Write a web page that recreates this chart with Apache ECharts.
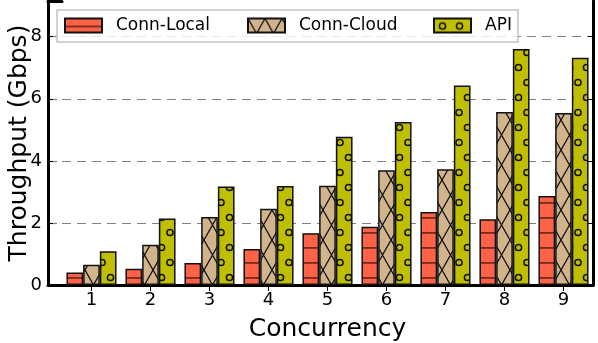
<!DOCTYPE html>
<html>
<head>
<meta charset="utf-8">
<script src="https://cdn.jsdelivr.net/npm/echarts@6/dist/echarts.min.js"></script>
<style>
  html, body { margin: 0; padding: 0; background: #fff; }
  #chart { width: 598px; height: 343px; }
</style>
</head>
<body>
<div id="chart"></div>
<script>
// data
var concurrency = ["1", "2", "3", "4", "5", "6", "7", "8", "9"];
var connLocal = [0.40, 0.52, 0.71, 1.16, 1.67, 1.88, 2.35, 2.12, 2.87];
var connCloud = [0.65, 1.30, 2.19, 2.46, 3.20, 3.70, 3.73, 5.57, 5.54];
var apiData = [1.09, 2.14, 3.17, 3.19, 4.78, 5.25, 6.43, 7.60, 7.32];
var yTicks = [0, 2, 4, 6, 8];

var FONT = "DejaVu Sans";
var YMAX = 9.15;

// hatch patterns, like matplotlib's '-', 'x' and 'o'
function makePattern(w, h, bg, draw) {
  var c = document.createElement("canvas");
  c.width = w;
  c.height = h;
  var ctx = c.getContext("2d");
  ctx.fillStyle = bg;
  ctx.fillRect(0, 0, w, h);
  draw(ctx);
  return { image: c, repeat: "repeat" };
}

var localFill = makePattern(17, 15, "#ff6347", function (ctx) {
  ctx.fillStyle = "#7a2a1c";
  ctx.fillRect(0, 7, 17, 1.8);
});

var cloudFill = makePattern(17, 30, "#d2b48c", function (ctx) {
  ctx.strokeStyle = "#111";
  ctx.lineWidth = 1.3;
  ctx.beginPath();
  ctx.moveTo(0, 0); ctx.lineTo(17, 30);
  ctx.moveTo(17, 0); ctx.lineTo(0, 30);
  ctx.stroke();
});

var apiFill = makePattern(17, 30, "#bfbf00", function (ctx) {
  ctx.strokeStyle = "#111";
  ctx.lineWidth = 1.5;
  [[8.5, 7.5], [0, 22.5], [17, 22.5]].forEach(function (p) {
    ctx.beginPath();
    ctx.arc(p[0], p[1], 3.1, 0, Math.PI * 2);
    ctx.stroke();
  });
});

function barSeries(name, vals, fill) {
  return {
    name: name,
    type: "bar",
    xAxisIndex: 0,
    yAxisIndex: 0,
    data: vals,
    barWidth: 16.7,
    barGap: "0%",
    itemStyle: { color: fill, borderColor: "#111", borderWidth: 1.5 }
  };
}

function legendAt(name, left) {
  return {
    left: left,
    top: 17,
    padding: 0,
    itemWidth: 37,
    itemHeight: 14,
    icon: "rect",
    textStyle: { fontSize: 17, color: "#000", fontFamily: FONT, padding: [0, 0, 0, 9] },
    data: [name]
  };
}

var frameLine = { show: true, lineStyle: { color: "#000", width: 3 } };
var gridDash = { show: true, lineStyle: { color: "#808080", width: 1.2, type: [9, 6] } };

var chart = echarts.init(document.getElementById("chart"));
chart.setOption({
  animation: false,
  textStyle: { fontFamily: FONT },
  grid: [
    { left: 62, right: 5, top: 1, bottom: 58, outerBoundsMode: "none" },
    // strip between the y axis and the first category, so the frame and grid lines reach the axis
    { left: 48, width: 14, top: 1, bottom: 58, outerBoundsMode: "none" }
  ],
  graphic: [{
    type: "rect",
    z: 3,
    shape: { x: 57, y: 10, width: 461, height: 32 },
    style: { fill: "rgba(255,255,255,0.8)", stroke: "#c4c4c4", lineWidth: 1.5 }
  }],
  legend: [
    legendAt("Conn-Local", 64),
    legendAt("Conn-Cloud", 247),
    legendAt("API", 433)
  ],
  xAxis: [
    {
      type: "category",
      gridIndex: 0,
      data: concurrency,
      name: "Concurrency",
      nameLocation: "middle",
      nameGap: 32,
      nameTextStyle: { fontSize: 25, color: "#000", fontFamily: FONT },
      axisLine: frameLine,
      axisTick: { inside: true, length: 5, alignWithLabel: true, lineStyle: { color: "#000" } },
      axisLabel: { fontSize: 18, color: "#000", margin: 6, fontFamily: FONT },
      splitLine: { show: false }
    },
    {
      type: "category",
      gridIndex: 0,
      position: "top",
      data: concurrency,
      axisLine: frameLine,
      axisTick: { show: true, inside: true, length: 6, alignWithLabel: true, lineStyle: { color: "#000" } },
      axisLabel: { show: false },
      splitLine: { show: false }
    },
    {
      type: "value",
      gridIndex: 1,
      min: 0,
      max: 1,
      axisLine: frameLine,
      axisTick: { show: false },
      axisLabel: { show: false },
      splitLine: { show: false }
    },
    {
      type: "value",
      gridIndex: 1,
      position: "top",
      min: 0,
      max: 1,
      axisLine: frameLine,
      axisTick: { show: false },
      axisLabel: { show: false },
      splitLine: { show: false }
    }
  ],
  yAxis: [
    {
      type: "value",
      gridIndex: 0,
      min: 0,
      max: YMAX,
      interval: 2,
      offset: 14,
      name: "Throughput (Gbps)",
      nameLocation: "middle",
      nameGap: 16,
      nameMoveOverlap: false,
      nameTextStyle: { fontSize: 25, color: "#000", fontFamily: FONT },
      axisLine: frameLine,
      axisTick: { show: true, inside: true, length: 5, customValues: yTicks, lineStyle: { color: "#000" } },
      axisLabel: { customValues: yTicks, fontSize: 18, color: "#000", margin: 6, fontFamily: FONT },
      splitLine: gridDash
    },
    {
      type: "value",
      gridIndex: 0,
      position: "right",
      min: 0,
      max: YMAX,
      interval: 2,
      axisLine: frameLine,
      axisTick: { show: true, inside: true, length: 5, customValues: yTicks, lineStyle: { color: "#000" } },
      axisLabel: { show: false },
      splitLine: { show: false }
    },
    {
      type: "value",
      gridIndex: 1,
      min: 0,
      max: YMAX,
      interval: 2,
      axisLine: { show: false },
      axisTick: { show: false },
      axisLabel: { show: false },
      splitLine: gridDash
    }
  ],
  series: [
    barSeries("Conn-Local", connLocal, localFill),
    barSeries("Conn-Cloud", connCloud, cloudFill),
    barSeries("API", apiData, apiFill)
  ]
});
</script>
</body>
</html>
